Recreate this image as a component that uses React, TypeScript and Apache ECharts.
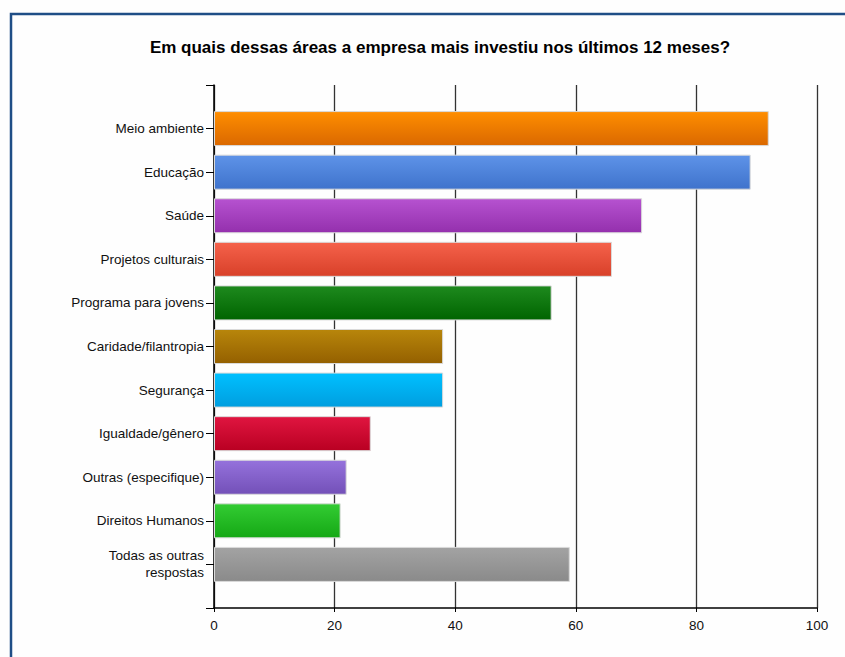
import React, { useEffect, useRef } from "react";
import * as echarts from "echarts";

const categories = [
  "",
  "Meio ambiente",
  "Educação",
  "Saúde",
  "Projetos culturais",
  "Programa para jovens",
  "Caridade/filantropia",
  "Segurança",
  "Igualdade/gênero",
  "Outras (especifique)",
  "Direitos Humanos",
  "Todas as outras\nrespostas",
  "",
];
const values: (number | string)[] = ["-", 92, 89, 71, 66, 56, 38, 38, 26, 22, 21, 59, "-"];
const topColors = ["", "#FF8E00", "#5E93E8", "#B652D0", "#F5624B", "#1E8A1E", "#B8860B", "#00C0FF", "#E01540", "#9572DC", "#33CC33", "#A3A3A3", ""];
const bottomColors = ["", "#DA6800", "#3F73CC", "#9430AD", "#D84029", "#006400", "#946000", "#009EDF", "#B90022", "#7350B8", "#15A815", "#8A8A8A", ""];
const xTicks = { min: 0, max: 100, interval: 20 };

export default function App() {
  const ref = useRef<HTMLDivElement>(null);
  useEffect(() => {
    const chart = echarts.init(ref.current!, undefined, { renderer: "svg" });
    const data = values.map((v, i) =>
      v === "-"
        ? "-"
        : {
            value: v,
            itemStyle: {
              color: new echarts.graphic.LinearGradient(0, 0, 0, 1, [
                { offset: 0, color: topColors[i] },
                { offset: 1, color: bottomColors[i] },
              ]),
            },
          }
    );
    chart.setOption({
      animation: false,
      backgroundColor: "#FEFEFE",
      title: {
        text: "Em quais dessas áreas a empresa mais investiu nos últimos 12 meses?",
        left: 435,
        textAlign: "center",
        top: 34,
        textStyle: { fontFamily: "Liberation Sans", fontSize: 17, fontWeight: "bold", color: "#000" },
      },
      graphic: [
        {
          type: "rect",
          shape: { x: 11, y: 14, width: 845, height: 660 },
          style: { fill: "none", stroke: "#1F4E86", lineWidth: 2.5 },
          silent: true,
        },
      ],
      grid: { left: 214, right: 28, top: 85, bottom: 49, containLabel: false },
      xAxis: {
        type: "value",
        min: xTicks.min,
        max: xTicks.max,
        interval: xTicks.interval,
        axisLine: { show: true, lineStyle: { color: "#000", width: 1.5 } },
        axisTick: { show: true, length: 4, lineStyle: { color: "#000" } },
        axisLabel: { fontFamily: "Liberation Sans", fontSize: 13.5, color: "#111", margin: 10 },
        splitLine: { show: true, lineStyle: { color: "#333", width: 1.3 } },
      },
      yAxis: {
        type: "category",
        data: categories,
        inverse: true,
        boundaryGap: false,
        axisLine: { show: true, lineStyle: { color: "#000", width: 1.5 } },
        axisTick: { show: true, length: 8, lineStyle: { color: "#000" } },
        axisLabel: {
          fontFamily: "Liberation Sans",
          fontSize: 13.5,
          color: "#111",
          margin: 10,
          lineHeight: 17,
          align: "right",
        },
      },
      series: [
        {
          type: "bar",
          data,
          barWidth: 35,
          itemStyle: { borderColor: "#DADADA", borderWidth: 1 },
          z: 3,
        },
      ],
    });
    return () => chart.dispose();
  }, []);
  return <div ref={ref} style={{ width: 845, height: 657, position: "absolute", left: 0, top: 0 }} />;
}
